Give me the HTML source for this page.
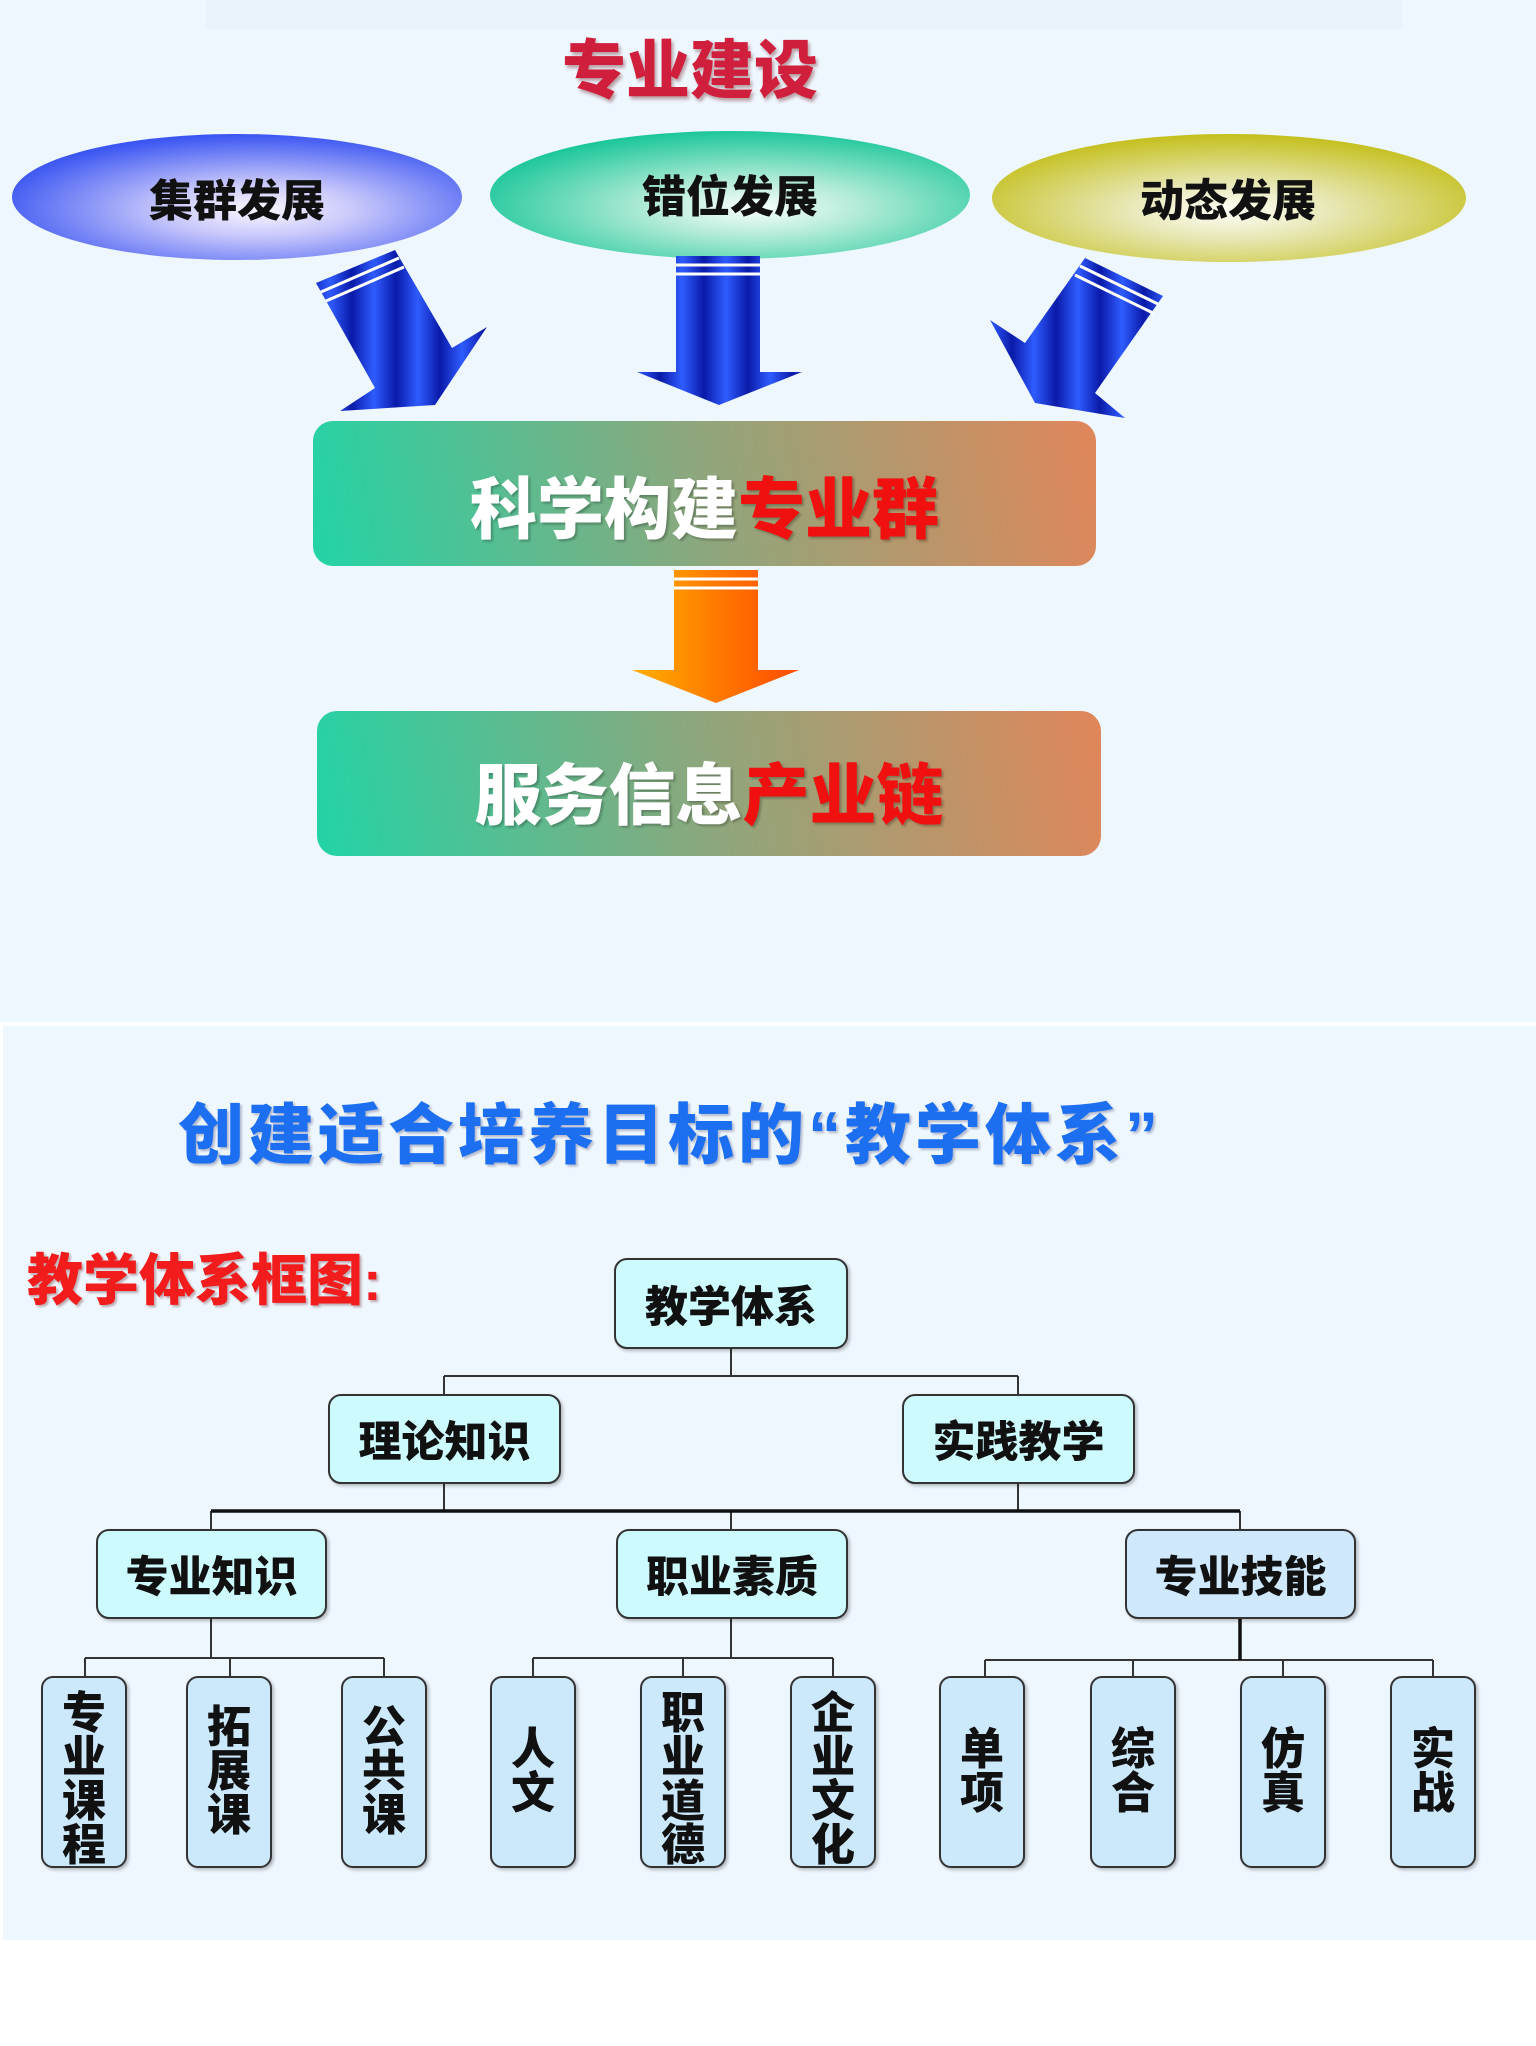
<!DOCTYPE html>
<html><head><meta charset="utf-8">
<style>
html,body{margin:0;padding:0}
body{width:1536px;height:2046px;position:relative;background:#fff;overflow:hidden;font-family:"Liberation Sans","Noto Sans CJK SC",sans-serif}
.abs{position:absolute}
.t{position:absolute;white-space:nowrap;font-weight:900;text-align:center}
.node{position:absolute;box-sizing:border-box;border:2.5px solid #333;border-radius:13px;background:#ccfafd;box-shadow:2px 2px 3px rgba(0,0,0,.25);display:flex;align-items:center;justify-content:center;font-weight:900;font-size:43px;color:#111}
.leaf{position:absolute;top:1676px;width:86px;height:192px;box-sizing:border-box;border:2.5px solid #333;border-radius:12px;background:#cce8fb;box-shadow:2px 2px 3px rgba(0,0,0,.25);overflow:hidden;font-weight:900;font-size:44px;color:#111;text-align:center;line-height:44px;display:flex;flex-direction:column;align-items:center;justify-content:center}
</style></head><body>
<div class="abs" style="left:0;top:0;width:1536px;height:1022px;background:#eef6fe"></div>
<div class="abs" style="left:206px;top:0;width:1196px;height:29px;background:#e9f1fb"></div>
<div class="abs" style="left:3px;top:1026px;width:1533px;height:914px;background:#eef6fe"></div>

<svg class="abs" style="left:0;top:0" width="1536" height="2046">
<defs>
<radialGradient id="e1" cx="0.55" cy="0.6" r="0.6"><stop offset="0" stop-color="#fbf8ff"/><stop offset="0.35" stop-color="#c9c8fb"/><stop offset="1" stop-color="#3a55f2"/></radialGradient>
<radialGradient id="e2" cx="0.55" cy="0.6" r="0.6"><stop offset="0" stop-color="#fafffd"/><stop offset="0.35" stop-color="#b6ecd9"/><stop offset="1" stop-color="#1ec79a"/></radialGradient>
<radialGradient id="e3" cx="0.5" cy="0.6" r="0.6"><stop offset="0" stop-color="#fffff8"/><stop offset="0.35" stop-color="#e8e8b8"/><stop offset="1" stop-color="#c4bf1c"/></radialGradient>
<linearGradient id="bl" x1="0" y1="0" x2="22" y2="0" gradientUnits="userSpaceOnUse" spreadMethod="reflect"><stop offset="0" stop-color="#0a1aa8"/><stop offset="1" stop-color="#2f5cff"/></linearGradient>
<linearGradient id="or" x1="632" y1="0" x2="799" y2="0" gradientUnits="userSpaceOnUse"><stop offset="0" stop-color="#ffb000"/><stop offset="0.5" stop-color="#ff7a00"/><stop offset="1" stop-color="#ff4a00"/></linearGradient>
<linearGradient id="bx" x1="313" y1="566" x2="1096" y2="421" gradientUnits="userSpaceOnUse"><stop offset="0" stop-color="#22d4a6"/><stop offset="0.5" stop-color="#8fa67c"/><stop offset="1" stop-color="#e0865a"/></linearGradient>
<linearGradient id="bx2" x1="317" y1="856" x2="1101" y2="711" gradientUnits="userSpaceOnUse"><stop offset="0" stop-color="#22d4a6"/><stop offset="0.5" stop-color="#8fa67c"/><stop offset="1" stop-color="#e0865a"/></linearGradient>
</defs>
<ellipse cx="237" cy="197" rx="225" ry="63" fill="url(#e1)"/>
<ellipse cx="730" cy="195" rx="240" ry="64" fill="url(#e2)"/>
<ellipse cx="1229" cy="198" rx="237" ry="64" fill="url(#e3)"/>
<polygon points="316,283 395,250 452,348 487,327 435,405 340,411 375,388" fill="url(#bl)"/>
<line x1="321" y1="292" x2="399" y2="258" stroke="#fff" stroke-width="3"/>
<line x1="326" y1="301" x2="404" y2="267" stroke="#fff" stroke-width="3"/>
<polygon points="676,256 760,256 760,372 802,372 719,405 637,372 676,372" fill="url(#bl)"/>
<line x1="676" y1="265" x2="760" y2="265" stroke="#fff" stroke-width="3"/>
<line x1="676" y1="274" x2="760" y2="274" stroke="#fff" stroke-width="3"/>
<polygon points="1085,258 1163,296 1095,393 1125,418 1035,403 990,320 1025,343" fill="url(#bl)"/>
<line x1="1080" y1="266" x2="1158" y2="304" stroke="#fff" stroke-width="3"/>
<line x1="1075" y1="275" x2="1153" y2="313" stroke="#fff" stroke-width="3"/>
<polygon points="674,570 758,570 758,670 799,670 716,703 632,670 674,670" fill="url(#or)"/>
<line x1="674" y1="579" x2="758" y2="579" stroke="#fff" stroke-width="3"/>
<line x1="674" y1="588" x2="758" y2="588" stroke="#fff" stroke-width="3"/>
<rect x="313" y="421" width="783" height="145" rx="20" fill="url(#bx)"/>
<rect x="317" y="711" width="784" height="145" rx="20" fill="url(#bx2)"/>
<g stroke="#333" stroke-width="2" fill="none">
<path d="M731 1349V1376M444 1376H1018M444 1376V1394M1018 1376V1394"/>
<path d="M444 1484V1511M1018 1484V1511M211 1511V1529M731 1511V1529M1240 1511V1529"/>
<path d="M211 1619V1658M85 1658H384M85 1658V1676M230 1658V1676M384 1658V1676"/>
<path d="M731 1619V1658M533 1658H833M533 1658V1676M683 1658V1676M833 1658V1676"/>
<path d="M985 1660H1433M985 1660V1676M1133 1660V1676M1283 1660V1676M1433 1660V1676"/>
</g>
<path d="M211 1511H1240M1240 1619V1660" stroke="#111" stroke-width="3.5" fill="none"/>
</svg>

<div class="t" style="left:560px;top:20px;width:260px;font-size:64px;color:#cf1f3c;text-shadow:2px 3px 3px rgba(90,0,0,.35)">专业建设</div>
<div class="t" style="left:87px;top:165px;width:300px;font-size:44px;color:#111">集群发展</div>
<div class="t" style="left:580px;top:161px;width:300px;font-size:44px;color:#111">错位发展</div>
<div class="t" style="left:1078px;top:165px;width:300px;font-size:44px;color:#111">动态发展</div>
<div class="t" style="left:313px;top:456px;width:783px;font-size:67px;color:#fff;text-shadow:2px 2px 2px rgba(0,0,0,.25)">科学构建<span style="color:#f01010">专业群</span></div>
<div class="t" style="left:317px;top:742px;width:784px;font-size:67px;color:#fff;text-shadow:2px 2px 2px rgba(0,0,0,.25)">服务信息<span style="color:#f01010">产业链</span></div>

<div class="t" style="left:178px;top:1082px;font-size:66px;color:#1b6ff0;letter-spacing:4px;text-shadow:2px 2px 2px rgba(0,0,60,.25)">创建适合培养目标的“教学体系”</div>
<div class="t" style="left:27px;top:1236px;font-size:56px;color:#f21c1c;text-shadow:2px 2px 2px rgba(80,0,0,.3)">教学体系框图:</div>

<div class="node" style="left:614px;top:1258px;width:234px;height:91px">教学体系</div>
<div class="node" style="left:328px;top:1394px;width:233px;height:90px">理论知识</div>
<div class="node" style="left:902px;top:1394px;width:233px;height:90px">实践教学</div>
<div class="node" style="left:96px;top:1529px;width:231px;height:90px">专业知识</div>
<div class="node" style="left:616px;top:1529px;width:232px;height:90px">职业素质</div>
<div class="node" style="left:1125px;top:1529px;width:231px;height:90px;background:#cfe8fb">专业技能</div>

<div class="leaf" style="left:41px;justify-content:flex-start;padding-top:14px">专<br>业<br>课<br>程</div>
<div class="leaf" style="left:186px">拓<br>展<br>课</div>
<div class="leaf" style="left:341px">公<br>共<br>课</div>
<div class="leaf" style="left:490px">人<br>文</div>
<div class="leaf" style="left:640px;justify-content:flex-start;padding-top:14px">职<br>业<br>道<br>德</div>
<div class="leaf" style="left:790px;justify-content:flex-start;padding-top:14px">企<br>业<br>文<br>化</div>
<div class="leaf" style="left:939px">单<br>项</div>
<div class="leaf" style="left:1090px">综<br>合</div>
<div class="leaf" style="left:1240px">仿<br>真</div>
<div class="leaf" style="left:1390px">实<br>战</div>
</body></html>
